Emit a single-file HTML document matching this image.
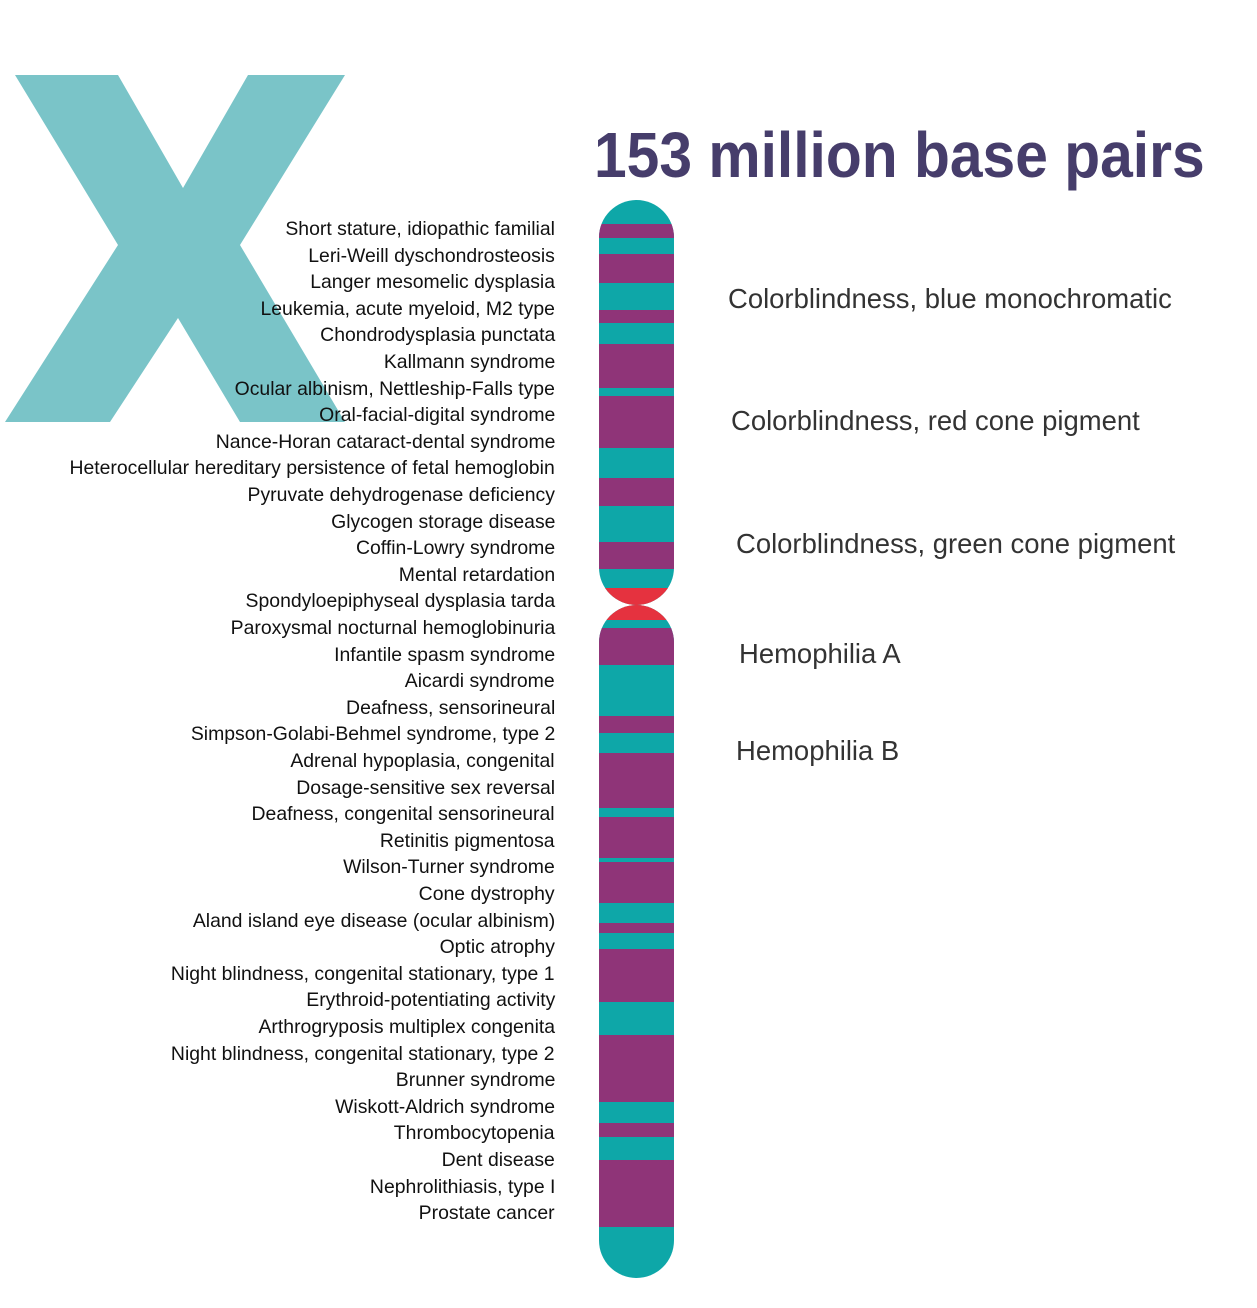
<!DOCTYPE html>
<html><head><meta charset="utf-8"><style>
body{margin:0;width:1257px;height:1308px;background:#fff;position:relative;overflow:hidden;font-family:"Liberation Sans",sans-serif}
.l{position:absolute;right:702px;font-size:19.5px;color:#111;white-space:nowrap;transform:scaleX(0.995);transform-origin:right center;line-height:24px}
.r{position:absolute;font-size:28px;color:#333;white-space:nowrap;transform:scaleX(0.98);transform-origin:left center;line-height:34px}
.t{position:absolute;left:594px;top:118px;font-size:64px;font-weight:bold;color:#463d6b;white-space:nowrap;transform:scaleX(0.918);transform-origin:left top;line-height:74px}
</style></head><body>
<svg width="1257" height="1308" style="position:absolute;left:0;top:0">
<polygon fill="#7ac4c8" points="15,75 118,75 183,188 248,75 345,75 240,245 345,422 240,422 178,318 110,422 5,422 118,245"/>
<defs><clipPath id="u"><rect x="599" y="200" width="75" height="405" rx="37.5"/></clipPath>
<clipPath id="d"><rect x="599" y="605" width="75" height="673" rx="37.5"/></clipPath></defs>
<g clip-path="url(#u)">
<rect x="599" y="200" width="75" height="405" fill="#0ea7a8"/>
<rect x="599" y="224" width="75" height="14" fill="#8f3478"/>
<rect x="599" y="254" width="75" height="29" fill="#8f3478"/>
<rect x="599" y="310" width="75" height="13" fill="#8f3478"/>
<rect x="599" y="344" width="75" height="44" fill="#8f3478"/>
<rect x="599" y="396" width="75" height="52" fill="#8f3478"/>
<rect x="599" y="478" width="75" height="28" fill="#8f3478"/>
<rect x="599" y="542" width="75" height="27" fill="#8f3478"/>
<rect x="599" y="588" width="75" height="20" fill="#e5323f"/>
</g>
<g clip-path="url(#d)">
<rect x="599" y="605" width="75" height="673" fill="#0ea7a8"/>
<rect x="599" y="605" width="75" height="15" fill="#e5323f"/>
<rect x="599" y="628" width="75" height="37" fill="#8f3478"/>
<rect x="599" y="716" width="75" height="17" fill="#8f3478"/>
<rect x="599" y="753" width="75" height="55" fill="#8f3478"/>
<rect x="599" y="817" width="75" height="41" fill="#8f3478"/>
<rect x="599" y="862" width="75" height="41" fill="#8f3478"/>
<rect x="599" y="923" width="75" height="10" fill="#8f3478"/>
<rect x="599" y="949" width="75" height="53" fill="#8f3478"/>
<rect x="599" y="1035" width="75" height="67" fill="#8f3478"/>
<rect x="599" y="1123" width="75" height="14" fill="#8f3478"/>
<rect x="599" y="1160" width="75" height="67" fill="#8f3478"/>
</g>
</svg>
<div class="t">153 million base pairs</div>
<div class="l" style="top:217px">Short stature, idiopathic familial</div>
<div class="l" style="top:243.6px">Leri-Weill dyschondrosteosis</div>
<div class="l" style="top:270.2px">Langer mesomelic dysplasia</div>
<div class="l" style="top:296.8px">Leukemia, acute myeloid, M2 type</div>
<div class="l" style="top:323.4px">Chondrodysplasia punctata</div>
<div class="l" style="top:350px">Kallmann syndrome</div>
<div class="l" style="top:376.6px">Ocular albinism, Nettleship-Falls type</div>
<div class="l" style="top:403.2px">Oral-facial-digital syndrome</div>
<div class="l" style="top:429.8px">Nance-Horan cataract-dental syndrome</div>
<div class="l" style="top:456.4px">Heterocellular hereditary persistence of fetal hemoglobin</div>
<div class="l" style="top:483px">Pyruvate dehydrogenase deficiency</div>
<div class="l" style="top:509.6px">Glycogen storage disease</div>
<div class="l" style="top:536.2px">Coffin-Lowry syndrome</div>
<div class="l" style="top:562.8px">Mental retardation</div>
<div class="l" style="top:589.4px">Spondyloepiphyseal dysplasia tarda</div>
<div class="l" style="top:616px">Paroxysmal nocturnal hemoglobinuria</div>
<div class="l" style="top:642.6px">Infantile spasm syndrome</div>
<div class="l" style="top:669.2px">Aicardi syndrome</div>
<div class="l" style="top:695.8px">Deafness, sensorineural</div>
<div class="l" style="top:722.4px">Simpson-Golabi-Behmel syndrome, type 2</div>
<div class="l" style="top:749px">Adrenal hypoplasia, congenital</div>
<div class="l" style="top:775.6px">Dosage-sensitive sex reversal</div>
<div class="l" style="top:802.2px">Deafness, congenital sensorineural</div>
<div class="l" style="top:828.8px">Retinitis pigmentosa</div>
<div class="l" style="top:855.4px">Wilson-Turner syndrome</div>
<div class="l" style="top:882px">Cone dystrophy</div>
<div class="l" style="top:908.6px">Aland island eye disease (ocular albinism)</div>
<div class="l" style="top:935.2px">Optic atrophy</div>
<div class="l" style="top:961.8px">Night blindness, congenital stationary, type 1</div>
<div class="l" style="top:988.4px">Erythroid-potentiating activity</div>
<div class="l" style="top:1015px">Arthrogryposis multiplex congenita</div>
<div class="l" style="top:1041.6px">Night blindness, congenital stationary, type 2</div>
<div class="l" style="top:1068.2px">Brunner syndrome</div>
<div class="l" style="top:1094.8px">Wiskott-Aldrich syndrome</div>
<div class="l" style="top:1121.4px">Thrombocytopenia</div>
<div class="l" style="top:1148px">Dent disease</div>
<div class="l" style="top:1174.6px">Nephrolithiasis, type I</div>
<div class="l" style="top:1201.2px">Prostate cancer</div>
<div class="r" style="left:728px;top:282px">Colorblindness, blue monochromatic</div>
<div class="r" style="left:731px;top:404px">Colorblindness, red cone pigment</div>
<div class="r" style="left:736px;top:527px">Colorblindness, green cone pigment</div>
<div class="r" style="left:739px;top:637px">Hemophilia A</div>
<div class="r" style="left:736px;top:734px">Hemophilia B</div>
</body></html>
